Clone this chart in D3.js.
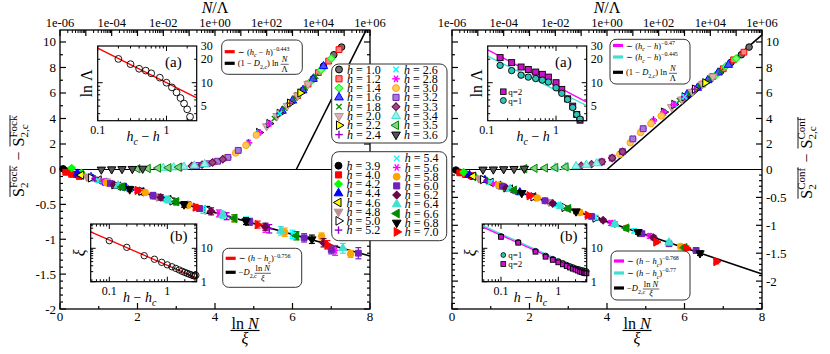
<!DOCTYPE html>
<html>
<head>
<meta charset="utf-8">
<script src="https://cdn.jsdelivr.net/npm/d3@7"></script>
<style>
  body { margin: 0; background: #fff; }
  text { font-family: "Liberation Serif", "DejaVu Serif", serif; fill: #000; }
</style>
</head>
<body>
<svg id="chart" width="830" height="354"></svg>
<script>
///////////// data /////////////

// h values of the two legends
const hBelow = [1.0, 1.2, 1.4, 1.6, 1.8, 2.0, 2.2, 2.4, 2.6, 2.8, 3.0, 3.2, 3.3, 3.4, 3.5, 3.6];
const hAbove = [3.9, 4.0, 4.2, 4.4, 4.6, 4.8, 5.0, 5.2, 5.4, 5.6, 5.8, 6.0, 6.2, 6.4, 6.6, 6.8, 7.0];

// top axis (N / Lambda)
const topTickValues = [1e-6, 1e-4, 1e-2, 1e0, 1e2, 1e4, 1e6];
const topTickLabels = ["1e-06", "1e-04", "1e-02", "1e+00", "1e+02", "1e+04", "1e+06"];
const bottomTicks = [0, 2, 4, 6, 8];
const upperYTicks = [0, 2, 4, 6, 8, 10];
const lowerYTicks = [-0.5, -1, -1.5, -2];

// upper half, Fock : log10(N/Lambda) and S2 - S2c, one row per h (hBelow)
const upFockLog = [
  [3.4, 3.8, 4.2, 4.6, 4.9], [3.2, 3.6, 4.0, 4.4, 4.8], [2.9, 3.3, 3.7, 4.1, 4.5],
  [2.6, 3.0, 3.4, 3.8, 4.2], [2.3, 2.7, 3.1, 3.5, 3.9], [2.0, 2.4, 2.8, 3.2, 3.6],
  [1.7, 2.1, 2.5, 2.9, 3.3], [1.3, 1.7, 2.1, 2.5, 2.9], [0.9, 1.3, 1.7, 2.1, 2.5],
  [0.5, 0.9, 1.3, 1.7, 2.1], [0.0, 0.4, 0.8, 1.2, 1.6], [-0.7, -0.3, 0.1, 0.5, 0.9],
  [-1.3, -0.9, -0.5, -0.1, 0.3], [-2.0, -1.6, -1.2, -0.8, -0.4], [-3.0, -2.6, -2.2, -1.8, -1.4],
  [-4.4, -4.0, -3.6, -3.2, -2.8]];
const upFockVal = [
  [6.2, 7.1, 8.1, 9.0, 9.6], [5.8, 6.7, 7.6, 8.5, 9.4], [5.2, 6.0, 6.9, 7.8, 8.7],
  [4.6, 5.4, 6.2, 7.1, 8.1], [4.0, 4.8, 5.6, 6.4, 7.3], [3.4, 4.2, 5.0, 5.8, 6.7],
  [2.9, 3.6, 4.4, 5.2, 6.0], [2.1, 2.9, 3.6, 4.4, 5.2], [1.5, 2.1, 2.9, 3.6, 4.4],
  [0.95, 1.5, 2.1, 2.9, 3.6], [0.6, 0.9, 1.3, 1.9, 2.7], [0.32, 0.45, 0.65, 0.95, 1.5],
  [0.2, 0.27, 0.38, 0.55, 0.8], [0.12, 0.16, 0.21, 0.3, 0.42], [0.06, 0.08, 0.11, 0.14, 0.18],
  [0.0, 0.02, 0.04, 0.05, 0.07]];

// upper half, Conf
const upConfLog = [
  [4.0, 4.4, 4.8, 5.2, 5.5], [3.7, 4.1, 4.5, 4.9, 5.3], [3.4, 3.8, 4.2, 4.6, 5.0],
  [3.1, 3.5, 3.9, 4.3, 4.7], [2.8, 3.2, 3.6, 4.0, 4.4], [2.5, 2.9, 3.3, 3.7, 4.1],
  [2.2, 2.6, 3.0, 3.4, 3.8], [1.8, 2.2, 2.6, 3.0, 3.4], [1.4, 1.8, 2.2, 2.6, 3.0],
  [1.0, 1.4, 1.8, 2.2, 2.6], [0.5, 0.9, 1.3, 1.7, 2.1], [-0.2, 0.2, 0.6, 1.0, 1.4],
  [-1.0, -0.6, -0.2, 0.2, 0.6], [-2.0, -1.6, -1.2, -0.8, -0.4], [-3.2, -2.8, -2.4, -2.0, -1.6],
  [-4.8, -4.4, -4.0, -3.6, -3.2]];
const upConfVal = [
  [7.1, 7.7, 8.4, 9.0, 9.6], [6.7, 7.3, 7.9, 8.6, 9.2], [6.3, 6.8, 7.4, 8.1, 8.7],
  [5.9, 6.4, 7.0, 7.6, 8.2], [5.4, 6.0, 6.6, 7.1, 7.7], [4.9, 5.5, 6.1, 6.7, 7.3],
  [4.5, 5.1, 5.7, 6.3, 6.8], [3.9, 4.5, 5.1, 5.7, 6.3], [3.2, 3.8, 4.4, 5.1, 5.7],
  [2.4, 3.2, 3.8, 4.5, 5.1], [1.2, 2.1, 2.9, 3.6, 4.2], [0.6, 0.9, 1.4, 2.4, 3.2],
  [0.3, 0.42, 0.6, 0.9, 1.4], [0.15, 0.2, 0.26, 0.36, 0.48], [0.07, 0.09, 0.12, 0.15, 0.2],
  [0.0, 0.01, 0.03, 0.05, 0.07]];

// lower half, Fock : ln N / xi, S2 - S2c and error, one row per h (hAbove)
const lowFockX = [
  [0.08, 0.15, 0.25, 0.4], [0.15, 0.3, 0.5, 0.75], [0.3, 0.55, 0.85, 1.2], [0.45, 0.8, 1.2, 1.7],
  [0.55, 1.0, 1.5, 2.1, 2.8], [0.7, 1.2, 1.8, 2.5, 3.3], [0.8, 1.4, 2.1, 2.9, 3.8],
  [0.9, 1.6, 2.4, 3.3, 4.3, 5.4], [1.0, 1.8, 2.7, 3.7, 4.8, 6.0], [1.1, 2.0, 3.0, 4.1, 5.3, 7.1],
  [1.2, 2.2, 3.3, 4.5, 5.8, 6.75, 7.5], [1.3, 2.4, 3.6, 4.9, 6.3, 7.0, 7.7],
  [1.4, 2.6, 3.9, 5.3, 6.8], [1.5, 2.8, 4.2, 5.7, 7.3], [1.6, 3.0, 4.5, 6.1],
  [1.8, 3.2, 4.8, 6.5], [2.0, 3.5, 5.1, 6.9]];
const lowFockY = [
  [0.01, -0.02, -0.03, -0.07], [-0.04, -0.07, -0.1, -0.12], [0.02, -0.05, -0.12, -0.18],
  [-0.06, -0.11, -0.19, -0.26], [-0.08, -0.15, -0.24, -0.32, -0.43], [-0.1, -0.17, -0.29, -0.39, -0.5],
  [-0.12, -0.22, -0.31, -0.45, -0.58], [-0.13, -0.24, -0.38, -0.5, -0.67, -0.85],
  [-0.16, -0.27, -0.42, -0.58, -0.73, -0.93], [-0.17, -0.3, -0.47, -0.63, -0.84, -1.16],
  [-0.19, -0.33, -0.51, -0.7, -0.9, -0.96, -1.21], [-0.2, -0.37, -0.56, -0.75, -0.98, -1.15, -1.2],
  [-0.22, -0.4, -0.6, -0.82, -1.05], [-0.23, -0.44, -0.65, -0.88, -1.13], [-0.25, -0.46, -0.7, -0.95],
  [-0.28, -0.5, -0.74, -1.0], [-0.3, -0.54, -0.79, -1.08]];
const lowFockErr = [
  [0.02, 0.02, 0.02, 0.02], [0.02, 0.02, 0.02, 0.03], [0.02, 0.02, 0.03, 0.03], [0.02, 0.03, 0.03, 0.03],
  [0.02, 0.03, 0.03, 0.04, 0.04], [0.02, 0.03, 0.03, 0.04, 0.04], [0.02, 0.03, 0.04, 0.04, 0.05],
  [0.02, 0.03, 0.04, 0.04, 0.05, 0.06], [0.02, 0.03, 0.04, 0.05, 0.05, 0.06],
  [0.03, 0.03, 0.04, 0.05, 0.06, 0.07], [0.03, 0.03, 0.04, 0.05, 0.06, 0.05, 0.05],
  [0.03, 0.04, 0.04, 0.05, 0.06, 0.06, 0.08], [0.03, 0.04, 0.05, 0.05, 0.06],
  [0.03, 0.04, 0.05, 0.06, 0.07], [0.03, 0.04, 0.05, 0.06], [0.03, 0.04, 0.05, 0.06],
  [0.03, 0.04, 0.05, 0.06]];

// lower half, Conf
const lowConfX = [
  [0.1, 0.2, 0.35, 0.5], [0.2, 0.35, 0.49, 0.75], [0.3, 0.6, 0.9, 1.3], [0.45, 0.85, 1.25, 1.75],
  [0.55, 1.0, 1.5, 2.1], [0.7, 1.2, 1.8, 2.5, 3.2], [0.8, 1.4, 2.1, 2.9, 3.7],
  [0.9, 1.6, 2.4, 3.3, 4.2], [1.0, 1.8, 2.7, 3.7, 4.7], [1.1, 2.0, 3.0, 4.1, 5.1],
  [1.2, 2.2, 3.3, 4.5, 5.9], [1.3, 2.4, 3.6, 4.9, 5.6, 6.3], [1.4, 2.6, 3.9, 5.2],
  [1.5, 2.8, 4.2, 5.6], [1.6, 3.0, 4.5, 6.0], [1.8, 3.2, 4.8, 6.4], [2.0, 3.5, 5.27, 6.05, 6.82]];
const lowConfY = [
  [-0.01, -0.05, -0.08, -0.12], [-0.06, -0.09, -0.11, -0.18], [-0.05, -0.13, -0.2, -0.3],
  [-0.1, -0.19, -0.29, -0.41], [-0.12, -0.23, -0.35, -0.49], [-0.16, -0.28, -0.42, -0.58, -0.75],
  [-0.18, -0.33, -0.49, -0.68, -0.87], [-0.2, -0.38, -0.56, -0.77, -0.98],
  [-0.23, -0.42, -0.63, -0.86, -1.1], [-0.26, -0.47, -0.7, -0.96, -1.19],
  [-0.28, -0.51, -0.77, -1.05, -1.38], [-0.3, -0.56, -0.84, -1.15, -1.33, -1.45],
  [-0.33, -0.61, -0.91, -1.22], [-0.35, -0.66, -0.98, -1.31], [-0.37, -0.7, -1.05, -1.4],
  [-0.42, -0.75, -1.12, -1.5], [-0.47, -0.82, -1.3, -1.41, -1.65]];
const lowConfErr = [
  [0.02, 0.02, 0.02, 0.02], [0.02, 0.02, 0.02, 0.02], [0.02, 0.02, 0.02, 0.03], [0.02, 0.02, 0.03, 0.03],
  [0.02, 0.02, 0.03, 0.03], [0.02, 0.02, 0.03, 0.03, 0.04], [0.02, 0.02, 0.03, 0.03, 0.04],
  [0.02, 0.03, 0.03, 0.04, 0.04], [0.02, 0.03, 0.03, 0.04, 0.04], [0.02, 0.03, 0.03, 0.04, 0.04],
  [0.02, 0.03, 0.03, 0.04, 0.04], [0.02, 0.03, 0.03, 0.04, 0.04, 0.05], [0.02, 0.03, 0.03, 0.04],
  [0.02, 0.03, 0.03, 0.04], [0.02, 0.03, 0.04, 0.04], [0.02, 0.03, 0.04, 0.04], [0.02, 0.03, 0.03, 0.04, 0.04]];

// fitted lines of the main panels
// upper: y = perDecade * log10(x / start) ; lower: y = -D * x
const fitUpFock = { start: 1.4e3, perDecade: 4.04 };
const fitUpConf = { start: 1, perDecade: 1.76 };
const dFock = 0.155;
const dConf = 0.234;

// inset (a): h_c - h vs ln Lambda
const insetAFockX = [0.2, 0.3, 0.4, 0.5, 0.6, 0.8, 1.0, 1.2, 1.4, 1.6, 1.8, 2.0, 2.2];
const insetAFockY = [20.2, 17.3, 15.1, 14.3, 13.2, 11.6, 10.0, 8.7, 7.5, 6.35, 5.4, 4.55, 3.65];
const insetAConfX = [0.156, 0.229, 0.313, 0.398, 0.509, 0.635, 0.775, 1.0, 1.21, 1.47, 1.74, 1.99, 2.22];
const insetAConfQ2 = [21, 18.1, 15.9, 14.8, 13.7, 12.8, 11.8, 10, 8.2, 6.2, 5.0, 3.9, 3.3];
const insetAConfQ1 = [16.7, 14.3, 12.5, 11.8, 11.3, 10.8, 10.2, 8.6, 7.3, 6.1, 4.8, 3.9, 3.4];

// inset (b): h - h_c vs xi
const insetBX = [0.1, 0.2, 0.4, 0.6, 0.8, 1.0, 1.2, 1.4, 1.6, 1.8, 2.0, 2.2, 2.4, 2.6, 2.8, 2.95, 3.1];
const insetBFockY = [16.9, 10.7, 6.0, 4.7, 3.8, 3.2, 2.8, 2.5, 2.25, 2.05, 1.9, 1.78, 1.68, 1.6, 1.52, 1.48, 1.55];
const insetBConfQ2 = [22, 14.7, 7.9, 5.6, 4.5, 3.8, 3.3, 2.95, 2.65, 2.45, 2.3, 2.15, 2.0, 1.92, 1.85, 1.8, 1.78];
const insetBConfQ1 = [23, 15.3, 8.3, 6.0, 4.8, 4.1, 3.6, 3.2, 2.9, 2.7, 2.5, 2.4, 2.3, 2.2, 2.15, 2.1, 2.05];

// power-law fits  y = amp * x^expo
const fitAFock = { amp: 10, expo: -0.443 };
const fitAConfQ2 = { amp: 9.1, expo: -0.47 };
const fitAConfQ1 = { amp: 8.0, expo: -0.445 };
const fitBFock = { amp: 3.1, expo: -0.756 };
const fitBConfQ2 = { amp: 4.2, expo: -0.768 };
const fitBConfQ1 = { amp: 4.6, expo: -0.77 };

///////////// styles /////////////

const C = {
  black: "#000000", red: "#ff0000", green: "#00ff00", blue: "#0000ff", yellow: "#ffff00",
  brown: "#bc8f8f", violet: "#9400d3", cyan: "#00ffff", magenta: "#ff00ff", orange: "#ffa500",
  indigo: "#7221bc", maroon: "#670748", turquoise: "#40e0d0", green4: "#008b00"
};

// legend markers for the lower h (light fill) and for the higher h (solid)
const styleBelow = [
  { s: "circle", c: C.black, f: "#707070" }, { s: "square", c: C.red, f: "#ff8080" },
  { s: "diamond", c: C.green, f: "#80ff80" }, { s: "up", c: C.blue, f: "#5050ff" },
  { s: "times", c: C.green4 }, { s: "down", c: C.brown, f: "#d4b4b4" },
  { s: "right", c: C.black, f: C.yellow }, { s: "plus", c: C.violet },
  { s: "times", c: C.cyan }, { s: "star", c: C.magenta },
  { s: "circle", c: C.orange, f: "#ffc861" }, { s: "square", c: C.indigo, f: "#a57ad8" },
  { s: "diamond", c: C.maroon, f: "#9b4a80" }, { s: "up", c: C.turquoise, f: "#9cefe6" },
  { s: "left", c: C.green4, f: "#8ccc8c" }, { s: "down", c: C.black, f: "#555" }
];
const styleAbove = [
  { s: "circle", c: C.black, f: C.black }, { s: "square", c: C.red, f: C.red },
  { s: "diamond", c: C.green, f: C.green }, { s: "up", c: C.blue, f: C.blue },
  { s: "left", c: C.black, f: C.yellow }, { s: "down", c: C.brown, f: C.brown },
  { s: "right", c: C.black, f: "#fff" }, { s: "plus", c: C.violet },
  { s: "times", c: C.cyan }, { s: "star", c: C.magenta },
  { s: "circle", c: C.orange, f: C.orange }, { s: "square", c: C.indigo, f: C.indigo },
  { s: "diamond", c: C.maroon, f: C.maroon }, { s: "up", c: C.turquoise, f: C.turquoise },
  { s: "left", c: C.green4, f: C.green4 }, { s: "down", c: C.black, f: C.black },
  { s: "right", c: C.red, f: C.red }
];

const SHAPES = {
  circle: [d3.symbolCircle, 0, 34, false],
  square: [d3.symbolSquare, 0, 34, false],
  diamond: [d3.symbolSquare, 45, 28, false],
  up: [d3.symbolTriangle, 0, 30, false],
  down: [d3.symbolTriangle, 180, 30, false],
  right: [d3.symbolTriangle, 90, 30, false],
  left: [d3.symbolTriangle, -90, 30, false],
  plus: [d3.symbolCross, 0, 0, true],
  times: [d3.symbolCross, 45, 0, true],
  star: [d3.symbolCross, 0, 0, true]
};

function marker(g, x, y, st, scale = 1) {
  const [type, rot, size, isStroke] = SHAPES[st.s];
  if (isStroke) {
    // thin line markers: plus, times, asterisk
    const r = 3.6 * scale;
    const angles = st.s === "plus" ? [0, 90] : st.s === "times" ? [45, 135] : [0, 60, 120];
    angles.forEach(a => {
      const dx = r * Math.cos(a * Math.PI / 180), dy = r * Math.sin(a * Math.PI / 180);
      g.append("line").attr("x1", x - dx).attr("y1", y - dy).attr("x2", x + dx).attr("y2", y + dy)
        .attr("stroke", st.c).attr("stroke-width", 1.4);
    });
    return;
  }
  g.append("path")
    .attr("d", d3.symbol(type, size * scale * scale)())
    .attr("transform", `translate(${x},${y}) rotate(${rot})`)
    .attr("fill", st.f)
    .attr("stroke", st.c)
    .attr("stroke-width", 1);
}

// text with tspans: [text, kind] kind in n, i, sub, sup, isub, isup
function rich(g, x, y, segs, size, anchor) {
  const t = g.append("text").attr("x", x).attr("y", y).attr("font-size", size)
    .attr("text-anchor", anchor || "start");
  let shift = 0;
  segs.forEach(s => {
    const k = s[1] || "n";
    const target = k.includes("sub") ? size * 0.3 : k.includes("sup") ? -size * 0.42 : 0;
    const sp = t.append("tspan").text(s[0]).attr("dy", target - shift);
    if (target !== 0) sp.attr("font-size", size * 0.7);
    if (k[0] === "i") sp.attr("font-style", "italic");
    if (s[2] !== undefined) sp.attr("dx", s[2]);
    shift = target;
  });
  return t;
}

// fraction: numerator / denominator centred at x
function frac(g, x, yBar, num, den, size) {
  const a = rich(g, x, yBar - 2, num, size, "middle");
  const b = rich(g, x, yBar + size * 0.85, den, size, "middle");
  const w = Math.max(a.node().getComputedTextLength(), b.node().getComputedTextLength());
  g.append("line").attr("x1", x - w / 2 - 1).attr("x2", x + w / 2 + 1)
    .attr("y1", yBar).attr("y2", yBar).attr("stroke", "#000").attr("stroke-width", size / 14);
}

///////////// layout /////////////

const svg = d3.select("#chart");
const yTop = 30, yZero = 169.5, yBot = 309;

const panels = [
  {
    x0: 60, x1: 370, side: "left", upLog: upFockLog, upVal: upFockVal, fitUp: fitUpFock,
    lowX: lowFockX, lowY: lowFockY, lowErr: lowFockErr, d: dFock, lowMin: -2, tag: "Fock"
  },
  {
    x0: 452, x1: 762, side: "right", upLog: upConfLog, upVal: upConfVal, fitUp: fitUpConf,
    lowX: lowConfX, lowY: lowConfY, lowErr: lowConfErr, d: dConf, lowMin: -2.5, tag: "Conf"
  }
];

panels.forEach(p => {
  const xTop = d3.scaleLog().domain([1e-6, 1e6]).range([p.x0, p.x1]);
  const xBot = d3.scaleLinear().domain([0, 8]).range([p.x0, p.x1]);
  const yUp = d3.scaleLinear().domain([0, 10.94]).range([yZero, yTop]);
  const yLow = d3.scaleLinear().domain([0, p.lowMin]).range([yZero, yBot]);
  const g = svg.append("g");
  const clipId = "clip" + p.tag;
  svg.append("clipPath").attr("id", clipId).append("rect")
    .attr("x", p.x0).attr("y", yTop).attr("width", p.x1 - p.x0).attr("height", yBot - yTop);

  // zero line
  g.append("line").attr("x1", p.x0).attr("x2", p.x1).attr("y1", yZero).attr("y2", yZero)
    .attr("stroke", "#000").attr("stroke-width", 1);

  // ticks
  const tk = (x1, y1, x2, y2, w) => g.append("line").attr("x1", x1).attr("y1", y1)
    .attr("x2", x2).attr("y2", y2).attr("stroke", "#000").attr("stroke-width", w || 1);
  for (let e = -6; e <= 6; e++) {
    tk(xTop(10 ** e), yTop, xTop(10 ** e), yTop + 6, 1.2);
    if (e < 6) for (let m = 2; m <= 9; m++) tk(xTop(m * 10 ** e), yTop, xTop(m * 10 ** e), yTop + 3);
  }
  topTickValues.forEach((v, i) => {
    g.append("text").attr("x", xTop(v)).attr("y", yTop - 3).attr("text-anchor", "middle")
      .attr("font-size", 12.5).text(topTickLabels[i]);
  });
  d3.range(0, 8.01, 1).forEach(v => {
    const len = v % 2 === 0 ? 6 : 3;
    tk(xBot(v), yBot, xBot(v), yBot - len, 1.2);
  });
  bottomTicks.forEach(v => {
    g.append("text").attr("x", xBot(v)).attr("y", yBot + 12).attr("text-anchor", "middle")
      .attr("font-size", 13).text(v);
  });
  const yTicksAll = [];
  d3.range(1, 11, 1).forEach(v => yTicksAll.push([yUp(v), v % 2 === 0 ? 6 : 3]));
  d3.range(-0.1, p.lowMin - 0.001, -0.1).forEach(v => {
    const major = Math.abs(v * 2 - Math.round(v * 2)) < 1e-6;
    yTicksAll.push([yLow(v), major ? 6 : 3]);
  });
  yTicksAll.forEach(([y, len]) => {
    tk(p.x0, y, p.x0 + len, y, 1.2);
    tk(p.x1, y, p.x1 - len, y, 1.2);
  });
  const lx = p.side === "left" ? p.x0 - 4 : p.x1 + 4;
  const anchor = p.side === "left" ? "end" : "start";
  upperYTicks.forEach(v => {
    g.append("text").attr("x", lx).attr("y", yUp(v) + 4.5).attr("text-anchor", anchor)
      .attr("font-size", 13).text(v);
  });
  lowerYTicks.forEach(v => {
    g.append("text").attr("x", lx).attr("y", yLow(v) + 4.5).attr("text-anchor", anchor)
      .attr("font-size", 13).text(v);
  });

  // fit lines
  const f = p.fitUp;
  const lineUp = d3.line().x(d => xTop(d)).y(d => yUp(f.perDecade * Math.log10(d / f.start)));
  g.append("path").attr("d", lineUp([f.start, 1e6])).attr("clip-path", `url(#${clipId})`)
    .attr("stroke", "#000").attr("stroke-width", 1.6).attr("fill", "none");
  g.append("line").attr("x1", xBot(0)).attr("y1", yLow(0)).attr("x2", xBot(8)).attr("y2", yLow(-p.d * 8))
    .attr("stroke", "#000").attr("stroke-width", 1.6);

  // lower half data with error bars
  p.lowX.forEach((xs, si) => {
    const st = styleAbove[si];
    xs.forEach((xv, j) => {
      const cx = xBot(xv), cy = yLow(p.lowY[si][j]);
      const e = p.lowErr[si][j];
      const col = st.c === C.black && st.f !== C.black ? C.black : (st.f && st.f !== "#fff" ? st.f : st.c);
      const y1 = yLow(p.lowY[si][j] + e), y2 = yLow(p.lowY[si][j] - e);
      g.append("line").attr("x1", cx).attr("x2", cx).attr("y1", y1).attr("y2", y2).attr("stroke", col).attr("stroke-width", 1.2);
      [y1, y2].forEach(yy => g.append("line").attr("x1", cx - 3).attr("x2", cx + 3).attr("y1", yy).attr("y2", yy)
        .attr("stroke", col).attr("stroke-width", 1.2));
      marker(g, cx, cy, st);
    });
  });

  // upper half data
  p.upLog.forEach((xs, si) => {
    xs.forEach((lv, j) => marker(g, xTop(10 ** lv), yUp(p.upVal[si][j]), styleBelow[si]));
  });

  // frame
  g.append("rect").attr("x", p.x0).attr("y", yTop).attr("width", p.x1 - p.x0).attr("height", yBot - yTop)
    .attr("fill", "none").attr("stroke", "#000").attr("stroke-width", 1.3);

  // axis titles
  const cx = (p.x0 + p.x1) / 2;
  rich(svg, cx, 13, [["N", "i"], ["/Λ", "n"]], 16, "middle");
  frac(svg, cx + 30, 330.5, [["ln ", "n"], ["N", "i"]], [["ξ", "i"]], 16);
});

///////////// insets /////////////

function inset(cfg) {
  const g = svg.append("g");
  const x = d3.scaleLog().domain(cfg.xDom).range([cfg.x0, cfg.x1]);
  const y = d3.scaleLog().domain(cfg.yDom).range([cfg.y1, cfg.y0]);
  g.append("rect").attr("x", cfg.x0).attr("y", cfg.y0).attr("width", cfg.x1 - cfg.x0)
    .attr("height", cfg.y1 - cfg.y0).attr("fill", "#fff");
  const tk = (x1, y1, x2, y2) => g.append("line").attr("x1", x1).attr("y1", y1).attr("x2", x2)
    .attr("y2", y2).attr("stroke", "#000").attr("stroke-width", 1);
  [0.01, 0.1, 1, 10].forEach(dec => {
    for (let m = 1; m <= 9; m++) {
      const v = m * dec;
      if (v < cfg.xDom[0] || v > cfg.xDom[1]) continue;
      const len = m === 1 ? 5 : 2.5;
      tk(x(v), cfg.y1, x(v), cfg.y1 - len);
      tk(x(v), cfg.y0, x(v), cfg.y0 + len);
    }
  });
  [1, 10, 100].forEach(dec => {
    for (let m = 1; m <= 9; m++) {
      const v = m * dec;
      if (v < cfg.yDom[0] || v > cfg.yDom[1]) continue;
      const len = m === 1 ? 5 : 2.5;
      tk(cfg.x0, y(v), cfg.x0 + len, y(v));
      tk(cfg.x1, y(v), cfg.x1 - len, y(v));
    }
  });
  cfg.xLabels.forEach(v => g.append("text").attr("x", x(v)).attr("y", cfg.y1 + 13)
    .attr("text-anchor", "middle").attr("font-size", 12).text(v));
  cfg.yLabels.forEach(v => g.append("text").attr("x", cfg.x1 + 4).attr("y", y(v) + 4)
    .attr("font-size", 12).text(v));

  cfg.fits.forEach(f => {
    const pts = [cfg.xDom[0], cfg.xDom[1]];
    g.append("path").attr("d", d3.line().x(d => x(d)).y(d => y(f.fit.amp * Math.pow(d, f.fit.expo)))(pts))
      .attr("stroke", f.color).attr("stroke-width", 1.3).attr("fill", "none");
  });
  cfg.series.forEach(s => {
    s.xs.forEach((xv, i) => {
      const px = x(xv), py = y(s.ys[i]);
      if (s.shape === "circle") {
        g.append("circle").attr("cx", px).attr("cy", py).attr("r", s.r || 3.2)
          .attr("fill", s.fill).attr("stroke", "#000").attr("stroke-width", 0.9);
      } else {
        const w = s.r ? s.r * 2 : 6;
        g.append("rect").attr("x", px - w / 2).attr("y", py - w / 2).attr("width", w).attr("height", w)
          .attr("fill", s.fill).attr("stroke", "#000").attr("stroke-width", 0.9);
      }
    });
  });
  g.append("rect").attr("x", cfg.x0).attr("y", cfg.y0).attr("width", cfg.x1 - cfg.x0)
    .attr("height", cfg.y1 - cfg.y0).attr("fill", "none").attr("stroke", "#000").attr("stroke-width", 1.2);

  g.append("text").attr("x", cfg.tagX).attr("y", cfg.tagY).attr("font-size", 15).text(cfg.tag);
  // axis titles
  const yl = g.append("g").attr("transform", `translate(${cfg.x0 - 6},${(cfg.y0 + cfg.y1) / 2}) rotate(-90)`);
  rich(yl, 0, 0, cfg.yTitle, 16, "middle");
  rich(g, (cfg.x0 + cfg.x1) / 2 - 4, cfg.y1 + 20, cfg.xTitle, 14, "middle");
  // small q legend inside the inset
  (cfg.qLegend || []).forEach(q => {
    if (q.shape === "circle") g.append("circle").attr("cx", q.x).attr("cy", q.y).attr("r", q.r)
      .attr("fill", q.fill).attr("stroke", "#000").attr("stroke-width", 0.8);
    else g.append("rect").attr("x", q.x - q.r).attr("y", q.y - q.r).attr("width", 2 * q.r)
      .attr("height", 2 * q.r).attr("fill", q.fill).attr("stroke", "#000").attr("stroke-width", 0.8);
    g.append("text").attr("x", q.x + 5).attr("y", q.y + 3).attr("font-size", 9).text(q.label);
  });
}

const xiTitle = [["h", "i"], [" − ", "n"], ["h", "i"], ["c", "isub"]];
const lamTitle = [["h", "i"], ["c", "isub"], [" − ", "n"], ["h", "i"]];

inset({
  x0: 97.7, x1: 196.7, y0: 46, y1: 120.7, xDom: [0.1, 2.75], yDom: [3.25, 29.6],
  xLabels: [0.1, 1], yLabels: [5, 10, 20, 30], tag: "(a)", tagX: 165, tagY: 67,
  yTitle: [["ln Λ", "n"]], xTitle: lamTitle,
  fits: [{ fit: fitAFock, color: C.red }],
  series: [{ xs: insetAFockX, ys: insetAFockY, shape: "circle", fill: "none", r: 3.4 }]
});
inset({
  x0: 90.7, x1: 196.7, y0: 224, y1: 281.7, xDom: [0.0478, 3.21], yDom: [1, 53.4],
  xLabels: [0.1, 1], yLabels: [1, 10], tag: "(b)", tagX: 170, tagY: 241,
  yTitle: [["ξ", "i"]], xTitle: xiTitle,
  fits: [{ fit: fitBFock, color: C.red }],
  series: [{ xs: insetBX, ys: insetBFockY, shape: "circle", fill: "none", r: 3.2 }]
});
inset({
  x0: 487.7, x1: 586.7, y0: 46, y1: 120.7, xDom: [0.1033, 2.77], yDom: [3.25, 29.6],
  xLabels: [0.1, 1], yLabels: [5, 10, 20, 30], tag: "(a)", tagX: 555, tagY: 67,
  yTitle: [["ln Λ", "n"]], xTitle: lamTitle,
  fits: [{ fit: fitAConfQ2, color: C.magenta }, { fit: fitAConfQ1, color: C.turquoise }],
  series: [
    { xs: insetAConfX, ys: insetAConfQ2, shape: "square", fill: "#cc11cc", r: 3 },
    { xs: insetAConfX, ys: insetAConfQ1, shape: "circle", fill: "#2ec4b6", r: 3.2 }],
  qLegend: [
    { x: 503.3, y: 91.7, r: 2.8, shape: "square", fill: "#cc11cc", label: "q=2" },
    { x: 503.3, y: 100.5, r: 3, shape: "circle", fill: "#2ec4b6", label: "q=1" }]
});
inset({
  x0: 482.3, x1: 586.7, y0: 224, y1: 281.7, xDom: [0.0472, 3.13], yDom: [1, 53.4],
  xLabels: [0.1, 1], yLabels: [1, 10], tag: "(b)", tagX: 560, tagY: 241,
  yTitle: [["ξ", "i"]], xTitle: xiTitle,
  fits: [{ fit: fitBConfQ1, color: C.turquoise }, { fit: fitBConfQ2, color: C.magenta }],
  series: [
    { xs: insetBX, ys: insetBConfQ1, shape: "circle", fill: "#2ec4b6", r: 2.6 },
    { xs: insetBX, ys: insetBConfQ2, shape: "square", fill: "#cc11cc", r: 2.4 }],
  qLegend: [
    { x: 503.3, y: 255, r: 2.4, shape: "circle", fill: "#2ec4b6", label: "q=1" },
    { x: 503.3, y: 264, r: 2.4, shape: "square", fill: "#cc11cc", label: "q=2" }]
});

///////////// fit legends /////////////

function fitLegend(box, rows) {
  const g = svg.append("g");
  g.append("rect").attr("x", box[0]).attr("y", box[1]).attr("width", box[2] - box[0])
    .attr("height", box[3] - box[1]).attr("rx", 6).attr("fill", "#fff").attr("stroke", "#333").attr("stroke-width", 1);
  rows.forEach(r => {
    g.append("line").attr("x1", box[0] + 3).attr("x2", box[0] + 13).attr("y1", r.y).attr("y2", r.y)
      .attr("stroke", r.color).attr("stroke-width", 3.2);
    if (r.fracNum) {
      const t = rich(g, box[0] + 16, r.y + 3, r.segs, 8.5);
      const w = t.node().getComputedTextLength();
      frac(g, box[0] + 16 + w + 6, r.y + 1, r.fracNum, r.fracDen, 8.5);
    } else {
      rich(g, box[0] + 16, r.y + 3, r.segs, 8.5);
    }
  });
}
const powA = e => [["∼ (", "n"], ["h", "i"], ["c", "isub"], [" − ", "n"], ["h", "i"], [")", "n"], [e, "sup"]];
const powB = e => [["∼ (", "n"], ["h", "i"], [" − ", "n"], ["h", "i"], ["c", "isub"], [")", "n"], [e, "sup"]];
const oneMinusD = [["(1 − ", "n"], ["D", "i"], ["2,c", "sub"], [") ln", "n"]];
const minusD = [["−", "n"], ["D", "i"], ["2,c", "sub"]];
const nOverL = [[["N", "i"]], [["Λ", "n"]]];
const nOverXi = [[["ln ", "n"], ["N", "i"]], [["ξ", "i"]]];

fitLegend([221.7, 40, 302.3, 74.3], [
  { y: 51.7, color: C.red, segs: powA("−0.443") },
  { y: 63.3, color: C.black, segs: oneMinusD, fracNum: nOverL[0], fracDen: nOverL[1] }]);
fitLegend([222.7, 248.3, 301.7, 287.3], [
  { y: 258.3, color: C.red, segs: powB("−0.756") },
  { y: 272.3, color: C.black, segs: minusD, fracNum: nOverXi[0], fracDen: nOverXi[1] }]);
fitLegend([610, 39.3, 690, 84], [
  { y: 45.5, color: C.magenta, segs: powA("−0.47") },
  { y: 57, color: C.turquoise, segs: powA("−0.445") },
  { y: 72.3, color: C.black, segs: oneMinusD, fracNum: nOverL[0], fracDen: nOverL[1] }]);
fitLegend([611, 251, 690, 300], [
  { y: 261, color: C.magenta, segs: powB("−0.768") },
  { y: 273, color: C.turquoise, segs: powB("−0.77") },
  { y: 288, color: C.black, segs: minusD, fracNum: nOverXi[0], fracDen: nOverXi[1] }]);

///////////// h legends /////////////

function hLegend(box, cols) {
  const g = svg.append("g");
  g.append("rect").attr("x", box[0]).attr("y", box[1]).attr("width", box[2] - box[0])
    .attr("height", box[3] - box[1]).attr("rx", 7).attr("fill", "#fff").attr("stroke", "#333").attr("stroke-width", 1);
  cols.forEach(col => {
    col.hs.forEach((h, i) => {
      const y = col.y0 + i * col.dy;
      marker(g, col.mx, y, col.styles[i], 1.05);
      rich(g, col.mx + 8, y + 4, [["h", "i"], [" = " + h.toFixed(1), "n"]], 12);
    });
  });
}
hLegend([331.7, 64, 447, 143], [
  { hs: hBelow.slice(0, 8), styles: styleBelow.slice(0, 8), mx: 339, y0: 69.5, dy: 9.3 },
  { hs: hBelow.slice(8), styles: styleBelow.slice(8), mx: 396, y0: 69.5, dy: 9.3 }]);
hLegend([331.7, 151.7, 446.7, 240.7], [
  { hs: hAbove.slice(0, 8), styles: styleAbove.slice(0, 8), mx: 338.5, y0: 165.7, dy: 9.2 },
  { hs: hAbove.slice(8), styles: styleAbove.slice(8), mx: 396.7, y0: 158.3, dy: 9.2 }]);

///////////// y axis titles /////////////

function yTitle(cx, cy, tag) {
  const g = svg.append("g");
  const term = (x, sub) => {
    const t = g.append("text").attr("x", x).attr("y", 0).attr("font-size", 16);
    t.append("tspan").text("S");
    const s = t.append("tspan").text(sub).attr("font-size", 11).attr("dy", 4);
    const sw = s.node().getComputedTextLength();
    t.append("tspan").text(tag).attr("font-size", 11).attr("dx", -sw).attr("dy", -11);
    const bb = t.node().getBBox();
    g.append("line").attr("x1", bb.x).attr("x2", bb.x + bb.width).attr("y1", -14).attr("y2", -14)
      .attr("stroke", "#000").attr("stroke-width", 0.9);
    return bb.x + bb.width;
  };
  let x = term(0, "2");
  const m = g.append("text").attr("x", x + 5).attr("y", 0).attr("font-size", 16).text("−");
  x = x + 5 + m.node().getComputedTextLength() + 5;
  const end = term(x, "2,c");
  g.attr("transform", `translate(${cx},${cy}) rotate(-90) translate(${-end / 2},0)`);
}
yTitle(24, 156, "Fock");
yTitle(812, 158, "Conf");
</script>
</body>
</html>
